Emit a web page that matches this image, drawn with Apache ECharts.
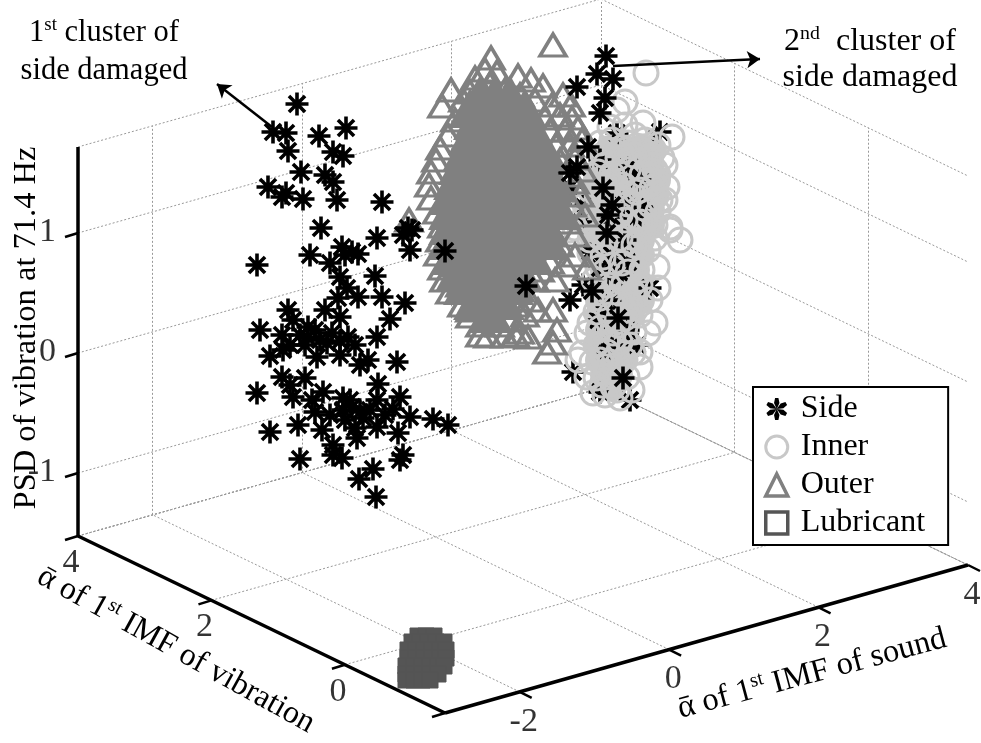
<!DOCTYPE html>
<html>
<head>
<meta charset="utf-8">
<style>
	html, body { margin: 0; padding: 0; background: #fff; }
	#chart { width: 981px; height: 743px; }
</style>
<script src="https://cdn.jsdelivr.net/npm/echarts@6/dist/echarts.min.js"></script>
</head>
<body>
<div id="chart"></div>
<script>
	// axis ticks of the 3D box
	let soundTicks = [-2, 0, 2, 4];
	let vibrationTicks = [0, 2, 4];
	let psdTicks = [-1, 0, 1];

	let sideOuterCluster = [
		[297,104],[346,128],[273,132],[286,133],[319,136],[288,151],[333,152],[343,156],[301,172],[325,175],
		[333,182],[268,187],[286,193],[282,197],[303,199],[337,200],[382,202],[321,228],[342,247],[377,238],
		[352,252],[358,254],[345,255],[310,255],[330,263],[257,265],[340,277],[375,276],[403,235],[408,228],
		[412,230],[410,250],[445,251],[347,288],[288,310],[338,298],[358,297],[382,297],[405,303],[325,310],
		[390,319],[293,320],[260,330],[340,317],[282,335],[308,327],[307,337],[332,333],[348,337],[377,337],
		[283,350],[270,356],[317,357],[340,355],[300,335],[327,343],[368,360],[360,365],[397,362],[282,377],
		[305,378],[290,385],[378,384],[257,393],[293,397],[323,392],[400,397],[377,400],[315,412],[343,398],
		[352,407],[360,412],[393,409],[410,417],[433,419],[448,425],[298,425],[270,432],[322,430],[343,410],
		[377,427],[363,418],[398,433],[357,438],[333,445],[403,455],[400,460],[300,459],[333,455],[342,458],
		[373,469],[359,479],[376,497],[320,340],[340,341],[355,345],[305,345],[315,330],[290,345],[350,400],
		[370,410],[385,415],[345,420],[330,415],[312,400],[355,428]
	];
	let sideTop = [
		[606,56],[597,74],[613,79],[577,87],[605,98],[600,113],[588,147],[526,286],[607,233],[592,291],
		[618,318],[623,378],[603,188],[612,205],[608,215],[570,173],[577,167]
	];
	let sideBelow = [
		[629,166],[660,132],[617,133],[553,172],[623,203],[642,207],[612,217],[635,218],[570,187],[582,205],
		[582,222],[570,300],[607,308],[622,275],[607,275],[628,262],[650,288],[573,372],[630,400],[600,392],
		[637,345],[605,352],[598,320],[590,252],[612,255],[583,285],[610,300],[628,330],[612,345],[625,240],
		[600,160],[640,180],[600,268]
	];
	let innerCore = [
		[610,150],[625,150],[640,150],[652,150],[605,165],[620,165],[635,165],[650,165],[598,180],[612,180],
		[628,180],[644,180],[656,180],[595,195],[610,195],[625,195],[640,195],[655,195],[590,210],[605,210],
		[620,210],[635,210],[650,210],[590,225],[605,225],[620,225],[635,225],[650,225],[595,240],[610,240],
		[625,240],[640,240],[600,255],[615,255],[630,255],[640,255],[605,270],[620,270],[635,270],[600,285],
		[615,285],[630,285],[640,285],[600,300],[615,300],[630,300],[640,300],[600,315],[615,315],[630,315],
		[600,330],[615,330],[625,330],[600,345],[612,345],[625,345],[600,360],[612,360],[622,360],[605,375],
		[618,375],[610,385]
	];
	let inner = [
		[646,73],[625,102],[643,123],[672,137],[662,158],[667,187],[670,227],[610,127],[617,110],[680,240],
		[670,230],[657,267],[658,288],[655,323],[648,333],[640,367],[632,390],[593,393],[578,360],[587,377],
		[582,353],[617,390],[613,387],[590,323],[587,333],[590,253],[570,230],[557,228],[597,235],[603,257],
		[597,292],[622,263],[633,293],[640,315],[613,333],[607,343],[630,345],[607,352],[627,377],[600,360],
		[633,353],[655,170],[650,150],[640,190],[625,150],[605,165],[595,185],[650,205],[620,215],[600,210],
		[640,240],[615,190],[660,200],[655,225],[635,135],[600,143],[625,125],[602,385],[617,365],[575,228],
		[612,140],[628,143],[645,140],[658,145],[603,155],[618,158],[634,155],[648,160],[665,165],[598,172],
		[612,174],[628,170],[642,175],[658,175],[590,190],[605,188],[622,185],[636,192],[652,188],[665,200],
		[585,205],[598,203],[612,205],[628,204],[644,208],[658,212],[582,220],[596,218],[610,222],[625,220],
		[640,222],[655,238],[590,240],[605,243],[620,238],[634,245],[648,250],[598,268],[612,265],[628,272],
		[642,270],[594,280],[608,285],[624,283],[640,285],[650,300],[600,298],[615,300],[630,305],[596,312],
		[610,315],[625,318],[600,328],[618,325],[634,332],[596,345],[620,342],[592,362],[610,362],[625,360],
		[596,378],[612,375],[640,352],[605,395],[620,398]
	];
	let outerCore = [
		[480,95],[495,95],[510,95],[470,108],[525,108],
		[490,105],[505,105],[475,120],[490,120],[505,120],[520,120],[470,135],[486,135],[502,135],[518,135],
		[534,135],[465,150],[481,150],[497,150],[513,150],[529,150],[545,150],[460,165],[476,165],[492,165],
		[508,165],[524,165],[540,165],[455,180],[471,180],[487,180],[503,180],[519,180],[535,180],[551,180],
		[450,195],[466,195],[482,195],[498,195],[514,195],[530,195],[546,195],[450,210],[466,210],[482,210],
		[498,210],[514,210],[530,210],[546,210],[560,210],[450,225],[466,225],[482,225],[498,225],[514,225],
		[530,225],[546,225],[450,240],[466,240],[482,240],[498,240],[514,240],[530,240],[546,240],[452,255],
		[468,255],[484,255],[500,255],[516,255],[532,255],[458,270],[474,270],[490,270],[506,270],[520,270],
		[465,285],[481,285],[497,285],[512,285],[475,300],[490,300],[503,300],[490,313]
	];
	let outer = [
		[491,58],[485,70],[497,72],[475,78],[490,84],[505,90],[518,76],[531,80],[543,86],[563,95],
		[571,105],[553,45],[451,90],[442,106],[463,100],[470,92],[520,95],[535,100],[552,105],[560,115],
		[545,118],[572,118],[578,128],[565,130],[550,130],[582,140],[570,145],[556,145],[575,158],[560,160],
		[547,155],[583,170],[568,175],[455,120],[448,135],[440,148],[436,160],[431,172],[429,185],[431,198],
		[437,212],[442,226],[440,240],[438,254],[442,268],[444,280],[450,292],[462,305],[470,316],[480,325],
		[488,336],[505,336],[520,332],[409,220],[553,310],[557,330],[528,337],[547,352],[553,343],[538,310],
		[525,315],[510,320],[500,325],[587,268],[565,265],[550,262],[535,280],[520,290],[540,270],[555,280],
		[530,300],[515,305],[575,255],[560,245],[575,235],[585,215],[572,205],[580,195],[562,190],[575,182],
		[558,210],[548,225],[568,222],[550,240],[470,270],[480,285],[490,300],[460,285],[455,265],[500,290],
		[510,270],[470,310],[490,320],[515,335],[480,335]
	];
	let lubricant = [
		[418,636],[426,636],[434,636],[412,642],[420,642],[428,642],[436,642],[444,642],[408,650],[416,650],
		[424,650],[432,650],[440,650],[446,650],[408,658],[416,658],[424,658],[432,658],[440,658],[446,658],
		[406,666],[414,666],[422,666],[430,666],[438,666],[444,666],[406,674],[414,674],[422,674],[430,674],
		[438,674],[406,680],[414,680],[422,680],[430,680]
	];

	// box of the 3D view
	let soundMin = -3, soundMax = 4;
	let vibrationMin = -1.5, vibrationMax = 4;
	let psdMin = -1.525, psdMax = 1.717;

	function project(s, v, z) {
		let a = (s - soundMin) / (soundMax - soundMin);
		let b = (v - vibrationMin) / (vibrationMax - vibrationMin);
		return [445 + 523 * a - 367 * b, 713 - 148 * a - 177 * b - 120 * (z - psdMin)];
	}

	function seg(p, q) {
		return { coords: [p, q] };
	}

	// dotted grid on floor and the two back walls
	let gridSegs = [];
	soundTicks.concat([soundMax]).forEach(s => {
		gridSegs.push(seg(project(s, vibrationMin, psdMin), project(s, vibrationMax, psdMin)));
		gridSegs.push(seg(project(s, vibrationMax, psdMin), project(s, vibrationMax, psdMax)));
	});
	vibrationTicks.concat([vibrationMax]).forEach(v => {
		gridSegs.push(seg(project(soundMin, v, psdMin), project(soundMax, v, psdMin)));
		gridSegs.push(seg(project(soundMax, v, psdMin), project(soundMax, v, psdMax)));
	});
	psdTicks.concat([psdMax, psdMin]).forEach(z => {
		gridSegs.push(seg(project(soundMin, vibrationMax, z), project(soundMax, vibrationMax, z)));
		gridSegs.push(seg(project(soundMax, vibrationMax, z), project(soundMax, vibrationMin, z)));
	});
	gridSegs.push(seg(project(soundMin, vibrationMin, psdMin), project(soundMax, vibrationMin, psdMin)));

	// thick axes
	let cornerLeft = project(soundMin, vibrationMax, psdMin);
	let cornerFront = project(soundMin, vibrationMin, psdMin);
	let cornerRight = project(soundMax, vibrationMin, psdMin);
	let cornerTop = project(soundMin, vibrationMax, psdMax);
	let axisSegs = [seg(cornerTop, cornerLeft), seg(cornerLeft, cornerFront), seg(cornerFront, cornerRight)];

	// small ticks
	let tickSegs = [];
	psdTicks.forEach(z => {
		let p = project(soundMin, vibrationMax, z);
		tickSegs.push(seg(p, [p[0] - 13, p[1] + 4]));
	});
	vibrationTicks.concat([vibrationMin]).forEach(v => {
		let p = project(soundMin, v, psdMin);
		tickSegs.push(seg(p, [p[0] - 13, p[1] + 4]));
	});
	soundTicks.forEach(s => {
		let p = project(s, vibrationMin, psdMin);
		tickSegs.push(seg(p, [p[0] + 12, p[1] + 6]));
	});

	let SERIF = '"Liberation Serif", "Times New Roman", serif';

	// 8 spokes for the scatter marker
	let starPath = 'path://M10 0L10 20M0 10L20 10M3 3L17 17M17 3L3 17';

	// 6 lobes for the legend icon
	let flowerPath = 'path://';
	for (let i = 0; i < 6; i++) {
		let a = i * Math.PI / 3;
		let pt = (r, d) => (10 + r * Math.sin(a + d)).toFixed(2) + ' ' + (10 - r * Math.cos(a + d)).toFixed(2);
		flowerPath += 'M10 10L' + pt(6, -0.42) + 'L' + pt(10, -0.15) + 'L' + pt(10, 0.15) + 'L' + pt(6, 0.42) + 'Z';
	}

	function dots(name, data, symbol, size, style, z) {
		return {
			name: name,
			type: 'scatter',
			data: data,
			symbol: symbol,
			symbolSize: size,
			itemStyle: style,
			z: z,
			silent: true,
			clip: false
		};
	}

	function segments(data, color, width, type, z) {
		return {
			type: 'lines',
			coordinateSystem: 'cartesian2d',
			data: data,
			lineStyle: { color: color, width: width, type: type, opacity: 1, cap: 'butt' },
			z: z,
			silent: true
		};
	}

	function tickLabels(values, point, offset, align) {
		return {
			type: 'scatter',
			data: values.map(t => ({ value: point(t), tick: t })),
			symbolSize: 0,
			z: 12,
			silent: true,
			label: {
				show: true,
				position: 'inside',
				formatter: p => String(p.data.tick),
				offset: offset,
				align: align,
				verticalAlign: 'middle',
				color: '#000',
				fontFamily: SERIF,
				fontSize: 34
			}
		};
	}

	let starStyle = { color: 'transparent', borderColor: '#000', borderWidth: 3.6, opacity: 1 };
	let circleStyle = { color: 'transparent', borderColor: '#c8c8c8', borderWidth: 3, opacity: 1 };
	let triangleStyle = { color: 'transparent', borderColor: '#808080', borderWidth: 3.5, opacity: 1 };

	function rich(size) {
		return {
			n: { fontFamily: SERIF, fontSize: size, fill: '#000', lineHeight: size + 4 },
			s: { fontFamily: SERIF, fontSize: size * 0.62, fill: '#000', lineHeight: size + 4, verticalAlign: 'top' }
		};
	}

	function caption(text, x, y, size, rotation) {
		return {
			type: 'text',
			x: x,
			y: y,
			rotation: rotation || 0,
			z: 20,
			style: {
				text: text,
				align: 'center',
				verticalAlign: 'middle',
				fontFamily: SERIF,
				fontSize: size,
				fill: '#000',
				rich: rich(size)
			}
		};
	}

	let option = {
		backgroundColor: '#fff',
		animation: false,
		grid: { left: 0, right: 0, top: 0, bottom: 0 },
		xAxis: { type: 'value', min: 0, max: 981, show: false },
		yAxis: { type: 'value', min: 0, max: 743, inverse: true, show: false },
		legend: {
			left: 753,
			top: 387,
			orient: 'vertical',
			selectedMode: false,
			backgroundColor: '#fff',
			borderColor: '#000',
			borderWidth: 2,
			padding: [6, 23, 6, 11],
			itemWidth: 22,
			itemHeight: 22,
			itemGap: 6,
			textStyle: { fontFamily: SERIF, fontSize: 32, color: '#000', padding: [0, 0, 0, 8] },
			data: [
				{ name: 'Side', icon: flowerPath, itemStyle: { color: '#000', borderWidth: 0, opacity: 1 } },
				{ name: 'Inner', icon: 'circle', itemStyle: circleStyle },
				{ name: 'Outer', icon: 'triangle', itemStyle: triangleStyle },
				{ name: 'Lubricant', icon: 'rect', itemStyle: { color: 'transparent', borderColor: '#555', borderWidth: 3.5, opacity: 1 } }
			]
		},
		series: [
			segments(gridSegs, '#999', 1, [2, 2], 1),
			dots('Lubricant', lubricant, 'rect', 16, { color: '#555', borderColor: '#555', borderWidth: 1, opacity: 1 }, 3),
			dots('Inner', innerCore, 'circle', 30, { color: '#c8c8c8', opacity: 1 }, 4),
			dots('Side', sideBelow, starPath, 23, starStyle, 5),
			dots('Inner', inner, 'circle', 24, circleStyle, 6),
			dots('Outer', outerCore, 'triangle', [44, 40], { color: '#808080', opacity: 1 }, 7),
			dots('Outer', outer, 'triangle', [26, 22], triangleStyle, 8),
			dots('Side', sideTop, starPath, 23, starStyle, 9),
			dots('Side', sideOuterCluster, starPath, 23, starStyle, 9),
			segments(axisSegs, '#000', 3.5, 'solid', 10),
			segments(tickSegs, '#000', 2.5, 'solid', 10),
			{
				type: 'lines',
				coordinateSystem: 'cartesian2d',
				data: [seg([272, 127], [217, 84]), seg([613, 66], [760, 59])],
				symbol: ['none', 'arrow'],
				symbolSize: 13,
				lineStyle: { color: '#000', width: 2.5, opacity: 1 },
				z: 11,
				silent: true
			},
			tickLabels(psdTicks, z => project(soundMin, vibrationMax, z), [-22, -1], 'right'),
			tickLabels(vibrationTicks, v => project(soundMin, v, psdMin), [-7, 27], 'center'),
			tickLabels(soundTicks, s => project(s, vibrationMin, psdMin), [4, 30], 'center')
		],
		graphic: [
			caption('{n|1}{s|st}{n| cluster of}', 104, 33, 30.5),
			caption('side damaged', 104, 71, 30.5),
			caption('{n|2}{s|nd}{n|  cluster of}', 870, 42, 32),
			caption('side damaged', 870, 78, 32),
			caption('PSD of vibration at 71.4 Hz', 26, 328, 32.5, Math.PI / 2),
			caption('{n|ᾱ of 1}{s|st}{n| IMF of vibration}', 176, 650, 32, -29 * Math.PI / 180),
			caption('{n|ᾱ of 1}{s|st}{n| IMF of sound}', 812, 674, 32.5, 15 * Math.PI / 180)
		]
	};

	let chart = echarts.init(document.getElementById('chart'));
	chart.setOption(option);
</script>
</body>
</html>
